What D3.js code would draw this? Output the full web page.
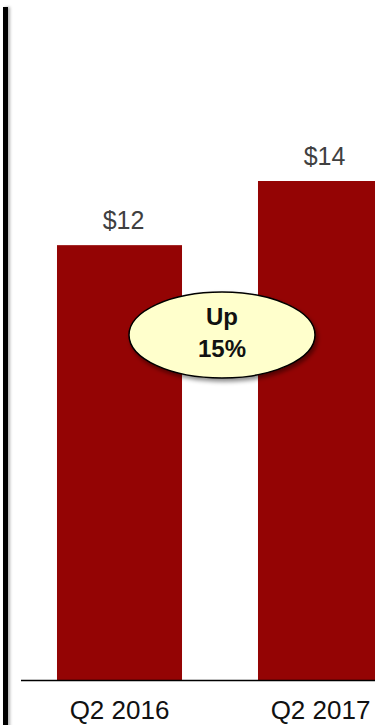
<!DOCTYPE html>
<html>
<head>
<meta charset="utf-8">
<script src="https://cdn.jsdelivr.net/npm/d3@7"></script>
<style>
  html, body { margin: 0; padding: 0; background: #fff; }
  svg { display: block; }
</style>
</head>
<body>
<svg id="chart" width="375" height="725"></svg>
<script>
/** Categories and values (in $) */
var quarters = ['Q2 2016', 'Q2 2017'];
var revenue = [12.2, 14.0];
var valueLabels = ['$12', '$14'];
var changeLabel = ['Up', '15%'];

var width = 375, height = 725;
var baseY = 680;

var svg = d3.select('#chart');

var defs = svg.append('defs');
var shadow = defs.append('filter').attr('id', 'shadow')
    .attr('x', '-20%').attr('y', '-20%').attr('width', '140%').attr('height', '140%');
shadow.append('feDropShadow')
    .attr('dx', 2).attr('dy', 3).attr('stdDeviation', 2)
    .attr('flood-color', '#000').attr('flood-opacity', 0.45);

var barShadow = defs.append('filter').attr('id', 'barShadow')
    .attr('x', '-100%').attr('y', '-5%').attr('width', '300%').attr('height', '110%');
barShadow.append('feDropShadow')
    .attr('dx', 2).attr('dy', 0).attr('stdDeviation', 1.5)
    .attr('flood-color', '#000').attr('flood-opacity', 0.3);

/** Scales: second bar runs past the right edge, like the original slide crop */
var x = d3.scaleBand()
    .domain(quarters)
    .range([19, 421])
    .paddingInner(0.378)
    .paddingOuter(0.189);

var y = d3.scaleLinear()
    .domain([0, 14])
    .range([baseY, 181]);

// left black rule
svg.append('rect')
    .attr('x', 3).attr('y', 7)
    .attr('width', 5).attr('height', height)
    .attr('fill', '#000')
    .attr('filter', 'url(#barShadow)');

// bars
svg.selectAll('rect.bar')
    .data(revenue)
    .enter()
    .append('rect')
    .attr('class', 'bar')
    .attr('x', function (d, i) { return x(quarters[i]); })
    .attr('y', function (d) { return y(d); })
    .attr('width', x.bandwidth())
    .attr('height', function (d) { return baseY - y(d); })
    .attr('fill', '#940404');

// value labels
svg.selectAll('text.value')
    .data(revenue)
    .enter()
    .append('text')
    .attr('class', 'value')
    .attr('x', function (d, i) { return x(quarters[i]) + x.bandwidth() / 2 + 4; })
    .attr('y', function (d) { return y(d) - 16; })
    .attr('text-anchor', 'middle')
    .attr('font-family', 'Liberation Sans, Arial, sans-serif')
    .attr('font-size', 25)
    .attr('fill', '#404040')
    .text(function (d, i) { return valueLabels[i]; });

// axis baseline
svg.append('line')
    .attr('x1', 21).attr('x2', width)
    .attr('y1', baseY + 0.5).attr('y2', baseY + 0.5)
    .attr('stroke', '#000').attr('stroke-width', 1.5);

// category labels
svg.selectAll('text.cat')
    .data(quarters)
    .enter()
    .append('text')
    .attr('class', 'cat')
    .attr('x', function (d) { return x(d) + x.bandwidth() / 2; })
    .attr('y', 719)
    .attr('text-anchor', 'middle')
    .attr('font-family', 'Liberation Sans, Arial, sans-serif')
    .attr('font-size', 26)
    .attr('fill', '#111')
    .text(function (d) { return d; });

// "Up 15%" callout
var callout = svg.append('g').attr('transform', 'translate(222,335)');
callout.append('ellipse')
    .attr('rx', 93).attr('ry', 43)
    .attr('fill', '#ffffcc')
    .attr('stroke', '#000').attr('stroke-width', 1.5)
    .attr('filter', 'url(#shadow)');
callout.selectAll('text')
    .data(changeLabel)
    .enter()
    .append('text')
    .attr('x', 0)
    .attr('y', function (d, i) { return -10 + i * 32; })
    .attr('text-anchor', 'middle')
    .attr('font-family', 'Liberation Sans, Arial, sans-serif')
    .attr('font-weight', 'bold')
    .attr('font-size', 24)
    .attr('fill', '#111')
    .text(function (d) { return d; });
</script>
</body>
</html>
